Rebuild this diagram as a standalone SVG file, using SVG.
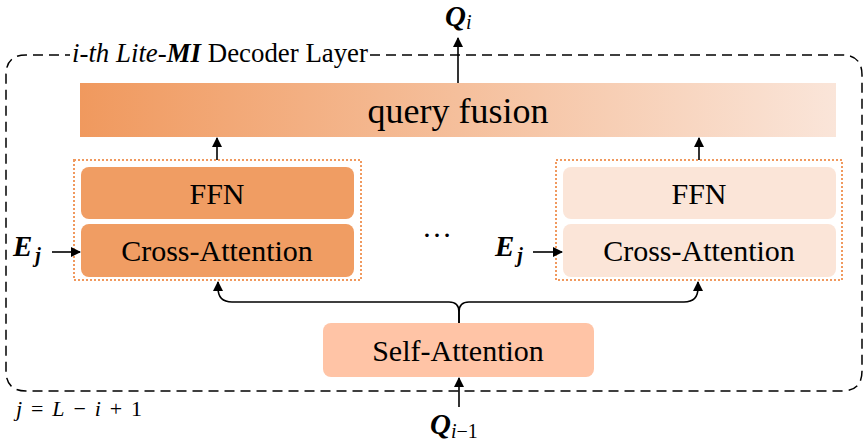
<svg xmlns="http://www.w3.org/2000/svg" width="867" height="447" viewBox="0 0 867 447">
<defs>
<linearGradient id="gq" x1="0" y1="0" x2="1" y2="0">
<stop offset="0" stop-color="#F0995E"/>
<stop offset="1" stop-color="#FAE5D9"/>
</linearGradient>
<marker id="ah2" viewBox="0 0 10 10" refX="9" refY="5" markerWidth="10" markerHeight="10" orient="auto" markerUnits="userSpaceOnUse">
<path d="M0,0 L10,5 L0,10 z" fill="#000"/>
</marker>
</defs>
<style>
text{font-family:"Liberation Serif","Times New Roman",serif;fill:#000}
.lbl{font-size:30px;text-anchor:middle}
.dot{fill:none;stroke:#F0995E;stroke-width:2;stroke-dasharray:2 2}
.ln{fill:none;stroke:#000;stroke-width:1.6;marker-end:url(#ah2)}
.mi{font-style:italic;font-weight:bold}
</style>
<rect width="867" height="447" fill="#fff"/>
<g id="outer">
<path d="M370,55 H842 Q862,55 862,75 V371 Q862,391 842,391 H26 Q6,391 6,371 V75 Q6,55 26,55 H70" fill="none" stroke="#000" stroke-width="1.5" stroke-dasharray="10 6"/>
<text x="72" y="62" font-size="26.5" textLength="296" lengthAdjust="spacingAndGlyphs"><tspan font-style="italic">i-th Lite-</tspan><tspan font-style="italic" font-weight="bold">MI</tspan> Decoder Layer</text>
</g>
<g id="query-fusion">
<rect x="80" y="83" width="756" height="54" fill="url(#gq)"/>
<text x="458" y="123" font-size="36" text-anchor="middle">query fusion</text>
</g>
<g id="block-left">
<rect class="dot" x="74" y="160" width="287" height="120"/>
<rect x="81" y="167" width="273" height="52" rx="8" fill="#F09D63"/>
<rect x="81" y="224" width="273" height="53" rx="8" fill="#F09D63"/>
<text class="lbl" x="217" y="204">FFN</text>
<text class="lbl" x="217" y="261">Cross-Attention</text>
</g>
<g id="block-right">
<rect class="dot" x="556" y="160" width="286" height="120"/>
<rect x="563" y="167" width="273" height="52" rx="8" fill="#FBE5D8"/>
<rect x="563" y="224" width="273" height="53" rx="8" fill="#FBE5D8"/>
<text class="lbl" x="699" y="204">FFN</text>
<text class="lbl" x="699" y="261">Cross-Attention</text>
</g>
<g id="self-attention">
<rect x="323" y="323" width="271" height="54" rx="8" fill="#FFC4A6"/>
<text class="lbl" x="458" y="361">Self-Attention</text>
</g>
<g id="labels">
<text x="445" y="26" font-size="29"><tspan class="mi">Q</tspan><tspan font-style="italic" font-size="20" dy="3">i</tspan></text>
<text x="430" y="434" font-size="29"><tspan class="mi">Q</tspan><tspan font-style="italic" font-size="20" dy="4">i</tspan><tspan font-size="20">−1</tspan></text>
<text x="13" y="256" font-size="29"><tspan class="mi">E</tspan><tspan class="mi" font-size="20" dy="6" dx="3">j</tspan></text>
<text x="495" y="256" font-size="29"><tspan class="mi">E</tspan><tspan class="mi" font-size="20" dy="6" dx="3">j</tspan></text>
<text x="16" y="416" font-size="22" textLength="126" lengthAdjust="spacing"><tspan font-style="italic">j</tspan> = <tspan font-style="italic">L</tspan> − <tspan font-style="italic">i</tspan> + 1</text>
<text x="437" y="237" font-size="30" text-anchor="middle">…</text>
</g>
<g id="connectors">
<path class="ln" d="M458,83 V38"/>
<path class="ln" d="M217,160 V138"/>
<path class="ln" d="M699,160 V138"/>
<path class="ln" d="M52,252 H80"/>
<path class="ln" d="M533,252 H562"/>
<path class="ln" d="M459,407 V378"/>
<path class="ln" d="M459,323 V312 Q459,302 449,302 H232 Q218,302 218,288 V282"/>
<path class="ln" d="M459,323 V312 Q459,302 469,302 H684 Q698,302 698,288 V282"/>
</g>
</svg>
